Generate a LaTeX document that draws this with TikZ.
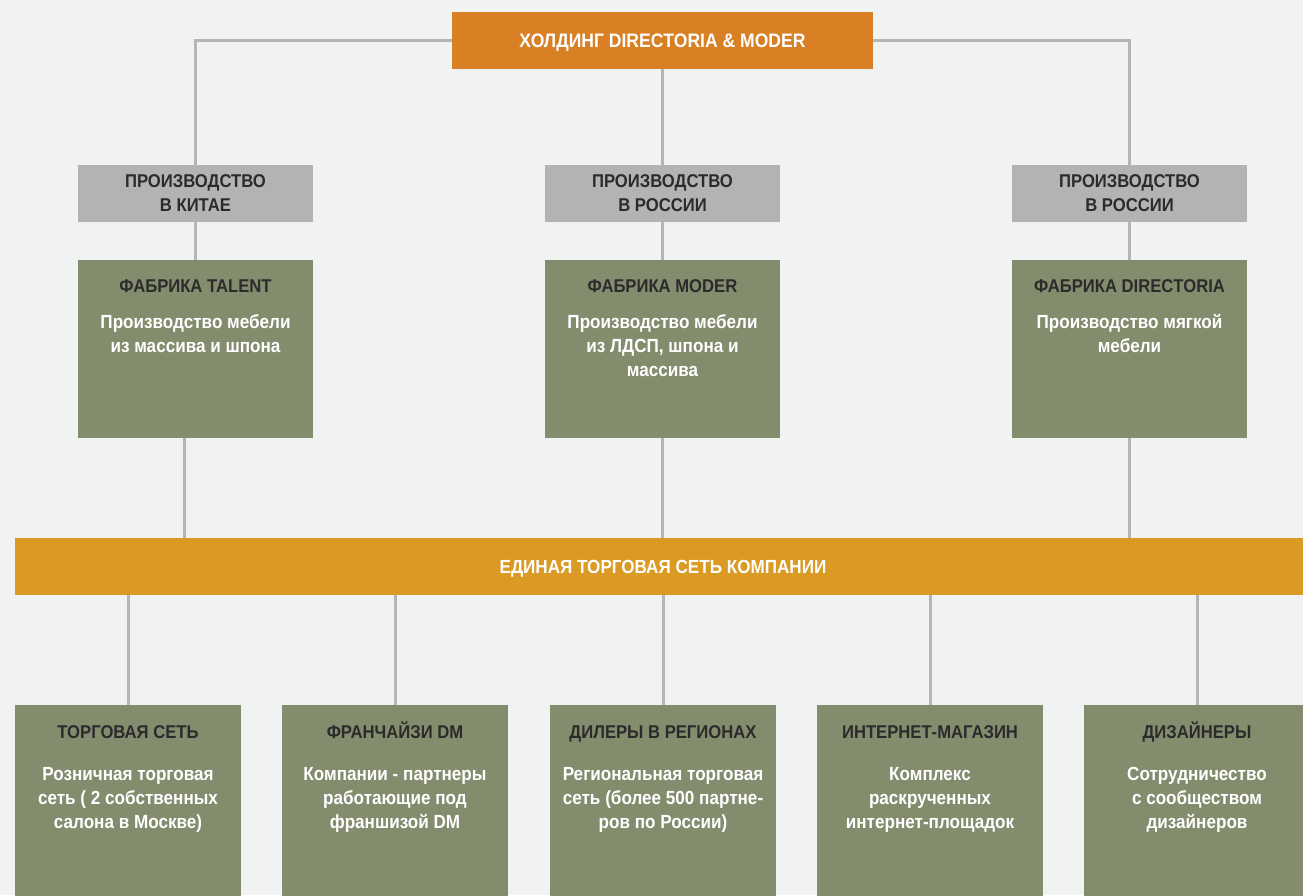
\documentclass[tikz,border=0pt]{standalone}
\usepackage{fontspec}
\setmainfont{Liberation Sans}[FakeStretch=0.9]
\definecolor{bggray}{HTML}{F1F2F2}
\definecolor{linegray}{HTML}{B5B5B5}
\definecolor{holdorange}{HTML}{D97F24}
\definecolor{regiongray}{HTML}{B2B3B3}
\definecolor{factorygreen}{HTML}{848C6E}
\definecolor{netyellow}{HTML}{DA9A23}
\definecolor{darktxt}{HTML}{2B2B2B}

\tikzset{
  link/.style={draw=linegray, line width=3pt},
  holdbox/.style={fill=holdorange, text=white, minimum width=421pt, minimum height=57pt,
    inner sep=0pt, text height=14pt, text depth=0pt, font=\fontsize{19.5}{24}\selectfont\bfseries},
  regionbox/.style={fill=regiongray, text=darktxt, minimum width=235pt, minimum height=57pt,
    inner sep=0pt, align=center, font=\fontsize{18.5}{24}\selectfont\bfseries},
  factorybox/.style={fill=factorygreen, minimum width=235pt, minimum height=178pt, inner sep=0pt},
  barbox/.style={fill=netyellow, text=white, minimum width=1296pt, minimum height=57pt,
    inner sep=0pt, text height=14pt, text depth=0pt, font=\fontsize{19}{24}\selectfont\bfseries},
  channelbox/.style={fill=factorygreen, minimum width=226pt, minimum height=200pt, inner sep=0pt},
  headtxt/.style={anchor=base, text=darktxt, inner sep=0pt, font=\fontsize{18.5}{24}\selectfont\bfseries},
  % base of a body text is the baseline of its last line
  bodytxt/.style={anchor=base, text=white, inner sep=0pt, align=center,
    font=\fontsize{19}{24}\selectfont\bfseries},
}

\begin{document}
\begin{tikzpicture}[x=1pt,y=-1pt]
  \fill[bggray] (0,0) rectangle (1303,895);
  \clip (0,0) rectangle (1303,895);

  % holding
  \node[holdbox] (holding) at (662.5,40.5) {ХОЛДИНГ DIRECTORIA \& MODER};

  % production
  \node[regionbox] (china) at (195.5,193.5) {ПРОИЗВОДСТВО\\В КИТАЕ};
  \node[regionbox] (rusmid) at (662.5,193.5) {ПРОИЗВОДСТВО\\В РОССИИ};
  \node[regionbox] (rusright) at (1129.5,193.5) {ПРОИЗВОДСТВО\\В РОССИИ};

  \node[factorybox] (talent) at (195.5,349) {};
  \node[factorybox] (moder) at (662.5,349) {};
  \node[factorybox] (directoria) at (1129.5,349) {};

  \node[headtxt] (talenthead) at ([yshift=-33]talent.north) {ФАБРИКА TALENT};
  \node[bodytxt] (talentbody) at ([yshift=-93]talent.north) {Производство мебели\\из массива и шпона};
  \node[headtxt] (moderhead) at ([yshift=-33]moder.north) {ФАБРИКА MODER};
  \node[bodytxt] (moderbody) at ([yshift=-117]moder.north) {Производство мебели\\из ЛДСП, шпона и\\массива};
  \node[headtxt] (directoriahead) at ([yshift=-33]directoria.north) {ФАБРИКА DIRECTORIA};
  \node[bodytxt] (directoriabody) at ([yshift=-93]directoria.north) {Производство мягкой\\мебели};

  % trade network
  \node[barbox] (network) at (663,566.5) {ЕДИНАЯ ТОРГОВАЯ СЕТЬ КОМПАНИИ};

  \node[channelbox] (retail) at (128,805) {};
  \node[channelbox] (franchise) at (395,805) {};
  \node[channelbox] (dealers) at (663,805) {};
  \node[channelbox] (eshop) at (930,805) {};
  \node[channelbox] (designers) at (1197,805) {};

  \node[headtxt] (retailhead) at ([yshift=-34]retail.north) {ТОРГОВАЯ СЕТЬ};
  \node[bodytxt] (retailbody) at ([yshift=-124]retail.north) {Розничная торговая\\сеть ( 2 собственных\\салона в Москве)};
  \node[headtxt] (franchisehead) at ([yshift=-34]franchise.north) {ФРАНЧАЙЗИ DM};
  \node[bodytxt] (franchisebody) at ([yshift=-124]franchise.north) {Компании - партнеры\\работающие под\\франшизой DM};
  \node[headtxt] (dealershead) at ([yshift=-34]dealers.north) {ДИЛЕРЫ В РЕГИОНАХ};
  \node[bodytxt] (dealersbody) at ([yshift=-124]dealers.north) {Региональная торговая\\сеть (более 500 партне-\\ров по России)};
  \node[headtxt] (eshophead) at ([yshift=-34]eshop.north) {ИНТЕРНЕТ-МАГАЗИН};
  \node[bodytxt] (eshopbody) at ([yshift=-124]eshop.north) {Комплекс\\раскрученных\\интернет-площадок};
  \node[headtxt] (designershead) at ([yshift=-34]designers.north) {ДИЗАЙНЕРЫ};
  \node[bodytxt] (designersbody) at ([yshift=-124]designers.north) {Сотрудничество\\с сообществом\\дизайнеров};

  % connectors
  \draw[link] (holding.west) -| (china.north);
  \draw[link] (holding.east) -| (rusright.north);
  \draw[link] (holding.south) -- (rusmid.north);
  \draw[link] (china) -- (talent);
  \draw[link] (rusmid) -- (moder);
  \draw[link] (rusright) -- (directoria);
  \draw[link] ([xshift=-11]talent.south) -- ([xshift=-11]talent.south |- network.north);
  \draw[link] (moder.south) -- (moder.south |- network.north);
  \draw[link] (directoria.south) -- (directoria.south |- network.north);
  \draw[link] (retail.north |- network.south) -- (retail.north);
  \draw[link] (franchise.north |- network.south) -- (franchise.north);
  \draw[link] (dealers.north |- network.south) -- (dealers.north);
  \draw[link] (eshop.north |- network.south) -- (eshop.north);
  \draw[link] (designers.north |- network.south) -- (designers.north);
\end{tikzpicture}
\end{document}
